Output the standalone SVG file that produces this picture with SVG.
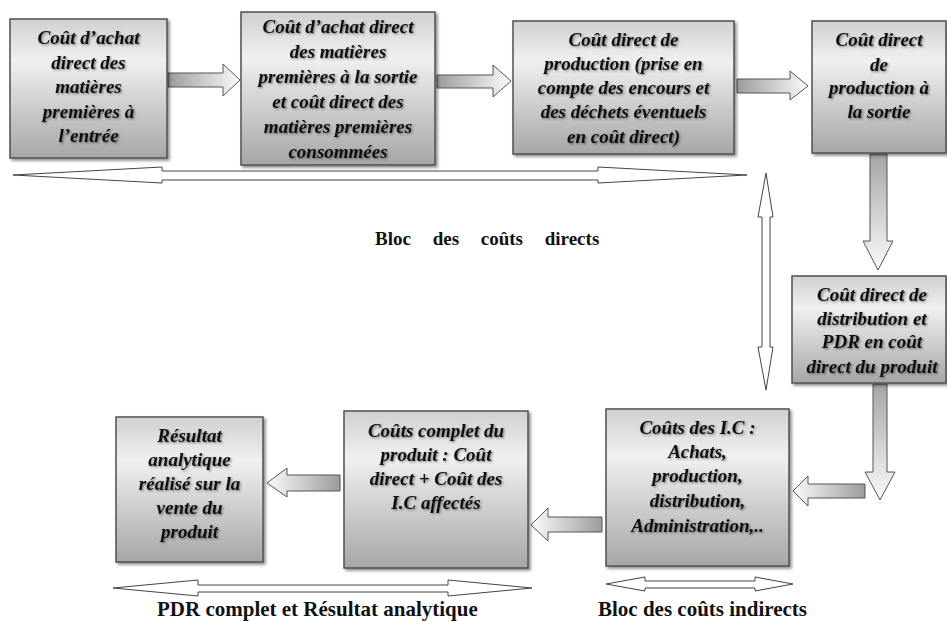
<svg xmlns="http://www.w3.org/2000/svg" width="947" height="621" viewBox="0 0 947 621">
  <defs>
    <linearGradient id="boxg" x1="0" y1="0" x2="0" y2="1">
      <stop offset="0" stop-color="#d0d0d0"/>
      <stop offset="0.3" stop-color="#f0f0f0"/>
      <stop offset="1" stop-color="#a6a6a6"/>
    </linearGradient>
    <linearGradient id="gr" x1="0" y1="0" x2="1" y2="0">
      <stop offset="0" stop-color="#9c9c9c"/>
      <stop offset="1" stop-color="#fbfbfb"/>
    </linearGradient>
    <linearGradient id="gl" x1="1" y1="0" x2="0" y2="0">
      <stop offset="0" stop-color="#9c9c9c"/>
      <stop offset="1" stop-color="#fbfbfb"/>
    </linearGradient>
    <linearGradient id="gd" x1="0" y1="0" x2="0" y2="1">
      <stop offset="0" stop-color="#a4a4a4"/>
      <stop offset="1" stop-color="#fbfbfb"/>
    </linearGradient>
    <filter id="shadow" x="-10%" y="-10%" width="125%" height="125%">
      <feDropShadow dx="2" dy="2" stdDeviation="1.5" flood-color="#000" flood-opacity="0.45"/>
    </filter>
    <filter id="tshadow" x="-10%" y="-20%" width="125%" height="150%">
      <feDropShadow dx="1.2" dy="1.2" stdDeviation="0.8" flood-color="#000" flood-opacity="0.45"/>
    </filter>
  </defs>
  <style>
    .box { fill: url(#boxg); stroke: #505050; stroke-width: 1.5; filter: url(#shadow); }
    .bt { font-family: "Liberation Serif", "Times New Roman", serif; font-weight: bold; font-style: italic; font-size: 19px; fill: #111; text-anchor: middle; filter: url(#tshadow); }
    .lbl { font-family: "Liberation Serif", "Times New Roman", serif; font-weight: bold; font-size: 19px; fill: #111; }
    .lbl2 { font-family: "Liberation Serif", "Times New Roman", serif; font-weight: bold; font-size: 21px; fill: #111; }
    .ba { stroke: #555; stroke-width: 1; }
    .da { fill: #fff; stroke: #444; stroke-width: 1; }
  </style>
  <rect width="947" height="621" fill="#fff"/>

  <g id="connectors">
    <polygon class="ba" fill="url(#gr)" points="168,73 223,73 223,64 240,80 223,96 223,87 168,87"/>
    <polygon class="ba" fill="url(#gr)" points="437,75 493,75 493,65 511,81 493,97 493,88 437,88"/>
    <polygon class="ba" fill="url(#gr)" points="737,79 790,79 790,71 808,86 790,100 790,93 737,93"/>
    <polygon class="ba" fill="url(#gd)" points="870,154 887,154 887,241 893,241 878,270 863,241 870,241"/>
    <polygon class="ba" fill="url(#gd)" points="873,384 887,384 887,472 895,472 880,500 865,472 873,472"/>
    <polygon class="ba" fill="url(#gl)" points="865,484 808,484 808,476 793,491 808,506 808,498 865,498"/>
    <polygon class="ba" fill="url(#gl)" points="602,517 548,517 548,508 531,525 548,541 548,532 602,532"/>
    <polygon class="ba" fill="url(#gl)" points="340,475 287,475 287,468 267,483 287,497 287,491 340,491"/>
    <polygon class="da" points="13,175 162,167 162,171 598,171 598,167 747,175 598,183 598,180 162,180 162,183"/>
    <polygon class="da" points="766,173 773,217 770,217 770,347 773,347 766,390 758,347 762,347 762,217 758,217"/>
    <polygon class="da" points="113,588 198,580 198,585 448,585 448,580 532,588 448,596 448,592 198,592 198,596"/>
    <polygon class="da" points="606,584 645,577 645,581 755,581 755,577 793,584 755,591 755,588 645,588 645,591"/>
  </g>

  <g id="n1">
    <rect class="box" x="10" y="19" width="157" height="139"/>
    <text class="bt"><tspan x="88.5" y="44">Coût d’achat</tspan><tspan x="88.5" y="68.5">direct des</tspan><tspan x="88.5" y="93">matières</tspan><tspan x="88.5" y="117.5">premières à</tspan><tspan x="88.5" y="142">l’entrée</tspan></text>
  </g>
  <g id="n2">
    <rect class="box" x="241" y="12" width="194" height="153"/>
    <text class="bt"><tspan x="338" y="33">Coût d’achat direct</tspan><tspan x="338" y="58">des matières</tspan><tspan x="338" y="83">premières à la sortie</tspan><tspan x="338" y="108">et coût direct des</tspan><tspan x="338" y="133">matières premières</tspan><tspan x="338" y="158">consommées</tspan></text>
  </g>
  <g id="n3">
    <rect class="box" x="513" y="21" width="221" height="133"/>
    <text class="bt"><tspan x="623.5" y="46">Coût direct de</tspan><tspan x="623.5" y="70">production (prise en</tspan><tspan x="623.5" y="94">compte des encours et</tspan><tspan x="623.5" y="118">des déchets éventuels</tspan><tspan x="623.5" y="143">en coût direct)</tspan></text>
  </g>
  <g id="n4">
    <rect class="box" x="812" y="21" width="134" height="132"/>
    <text class="bt"><tspan x="879" y="46">Coût direct</tspan><tspan x="879" y="71">de</tspan><tspan x="879" y="94">production à</tspan><tspan x="879" y="118">la sortie</tspan></text>
  </g>
  <g id="n5">
    <rect class="box" x="792" y="276" width="154" height="107"/>
    <text class="bt"><tspan x="872" y="301">Coût direct de</tspan><tspan x="872" y="325">distribution et</tspan><tspan x="872" y="348">PDR en coût</tspan><tspan x="872" y="373">direct du produit</tspan></text>
  </g>
  <g id="n6">
    <rect class="box" x="606" y="409" width="183" height="157"/>
    <text class="bt"><tspan x="697.5" y="434">Coûts des I.C :</tspan><tspan x="697.5" y="458">Achats,</tspan><tspan x="697.5" y="482">production,</tspan><tspan x="697.5" y="507">distribution,</tspan><tspan x="697.5" y="532">Administration,..</tspan></text>
  </g>
  <g id="n7">
    <rect class="box" x="344" y="411" width="184" height="157"/>
    <text class="bt"><tspan x="436" y="437">Coûts complet du</tspan><tspan x="436" y="461">produit : Coût</tspan><tspan x="436" y="485">direct + Coût des</tspan><tspan x="436" y="509">I.C affectés</tspan></text>
  </g>
  <g id="n8">
    <rect class="box" x="116" y="417" width="147" height="145"/>
    <text class="bt"><tspan x="189.5" y="442">Résultat</tspan><tspan x="189.5" y="466">analytique</tspan><tspan x="189.5" y="490">réalisé sur la</tspan><tspan x="189.5" y="514">vente du</tspan><tspan x="189.5" y="538">produit</tspan></text>
  </g>

  <g id="labels">
    <text class="lbl" x="375" y="245" word-spacing="17">Bloc des coûts directs</text>
    <text class="lbl2" x="157" y="616">PDR complet et Résultat analytique</text>
    <text class="lbl2" x="598" y="616">Bloc des coûts indirects</text>
  </g>
</svg>
